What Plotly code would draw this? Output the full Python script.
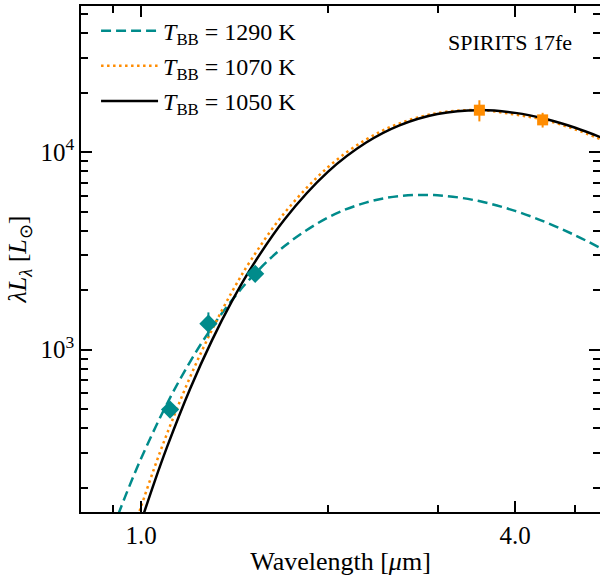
import plotly.graph_objects as go
import math

# ---- data ----
wl_1290 = [0.90, 0.95, 1.0, 1.1, 1.2, 1.3, 1.4, 1.5, 1.7, 2.0, 2.3, 2.6, 3.0, 3.5, 4.0, 4.5, 5.0, 5.5]
L_1290 = [124, 192, 282, 531, 873, 1296, 1779, 2296, 3338, 4674, 5555, 5986, 6048, 5652, 5040, 4394, 3791, 3260]

wl_1070 = [0.98, 1.0, 1.05, 1.1, 1.2, 1.3, 1.4, 1.5, 1.7, 2.0, 2.3, 2.6, 3.0, 3.5, 4.0, 4.5, 5.0, 5.5]
L_1070 = [133, 161, 252, 374, 732, 1259, 1960, 2821, 4912, 8406, 11572, 13951, 15776, 16321, 15492, 14455, 13027, 11597]

wl_1050 = [1.0, 1.05, 1.1, 1.2, 1.3, 1.4, 1.5, 1.7, 2.0, 2.3, 2.6, 3.0, 3.5, 4.0, 4.5, 5.0, 5.5]
L_1050 = [135, 213, 320, 638, 1114, 1759, 2565, 4552, 7969, 11152, 13623, 15594, 16321, 15809, 14666, 13285, 11876]

nir_wl = [1.113, 1.283, 1.526]
nir_L = [497, 1354, 2421]
nir_err = [20, 190, 60]

irac_wl = [3.504, 4.43]
irac_L = [16310, 14570]
irac_err = [2000, 1250]

legend_names = ["<i>T</i><sub>BB</sub> = 1290 K",
                "<i>T</i><sub>BB</sub> = 1070 K",
                "<i>T</i><sub>BB</sub> = 1050 K"]
x_tickvals = [1.0, 4.0]
x_ticktext = ["1.0", "4.0"]
x_minor = [0.9, 2.0, 3.0, 5.0]
y_tickvals = [1e3, 1e4]
y_ticktext = ["10<sup>3</sup>", "10<sup>4</sup>"]
y_minor = [v * 10 ** e for e in (2, 3, 4) for v in range(2, 10)]

TEAL = "#008b8b"
ORANGE = "#ff8c00"
FONT = "Liberation Serif"

fig = go.Figure()
fig.add_trace(go.Scatter(x=wl_1290, y=L_1290, mode="lines", name=legend_names[0],
                         line=dict(color=TEAL, width=2.5, dash="10px,5px", shape="spline"),
                         legendgroup="a"))
fig.add_trace(go.Scatter(x=wl_1070, y=L_1070, mode="lines", name=legend_names[1],
                         line=dict(color=ORANGE, width=2.5, dash="2.5px,3.5px", shape="spline"),
                         legendgroup="b"))
fig.add_trace(go.Scatter(x=wl_1050, y=L_1050, mode="lines", name=legend_names[2],
                         line=dict(color="black", width=2.5, shape="spline"),
                         legendgroup="c"))
fig.add_trace(go.Scatter(x=nir_wl, y=nir_L, mode="markers", showlegend=False,
                         marker=dict(symbol="diamond", size=14, color=TEAL),
                         error_y=dict(type="data", array=nir_err, color=TEAL, thickness=2, width=0)))
fig.add_trace(go.Scatter(x=irac_wl, y=irac_L, mode="markers", showlegend=False,
                         marker=dict(symbol="square", size=11, color=ORANGE),
                         error_y=dict(type="data", array=irac_err, color=ORANGE, thickness=2, width=0)))

fig.add_annotation(text="SPIRITS 17fe", xref="paper", yref="paper", x=0.95, y=0.928,
                   xanchor="right", yanchor="middle", showarrow=False,
                   font=dict(family=FONT, size=22, color="black"))

fig.update_xaxes(type="log", range=[math.log10(0.8), math.log10(5.48)],
                 tickvals=x_tickvals, ticktext=x_ticktext, automargin=False,
                 ticks="inside", ticklen=11, tickwidth=1.5, tickcolor="black",
                 minor=dict(tickvals=x_minor, ticks="inside", ticklen=7, tickwidth=1.5, tickcolor="black"),
                 showline=True, linecolor="black", linewidth=1.5, mirror="allticks",
                 showgrid=False, zeroline=False,
                 title=dict(text="Wavelength [<i>μ</i>m]", font=dict(family=FONT, size=26, color="black"), standoff=4),
                 tickfont=dict(family=FONT, size=25, color="black"))
fig.update_yaxes(type="log", range=[2.178, 4.740],
                 tickvals=y_tickvals, ticktext=y_ticktext, automargin=False,
                 ticks="inside", ticklen=11, tickwidth=1.5, tickcolor="black",
                 minor=dict(tickvals=y_minor, ticks="inside", ticklen=7, tickwidth=1.5, tickcolor="black"),
                 showline=True, linecolor="black", linewidth=1.5, mirror="allticks",
                 showgrid=False, zeroline=False,
                 title=dict(text="<i>λL</i><sub><i>λ</i></sub> [<i>L</i><sub>⊙</sub>]",
                            font=dict(family=FONT, size=26, color="black"), standoff=6),
                 tickfont=dict(family=FONT, size=25, color="black"))

fig.update_layout(width=600, height=576,
                  margin=dict(l=81, r=0, t=6, b=64),
                  paper_bgcolor="white", plot_bgcolor="white",
                  showlegend=True,
                  legend=dict(x=0.029, y=0.995, xanchor="left", yanchor="top",
                              bgcolor="rgba(0,0,0,0)", borderwidth=0,
                              tracegroupgap=1, itemwidth=57,
                              font=dict(family=FONT, size=24, color="black")))

fig.write_html("out.html", config={"displayModeBar": False},
               post_script="document.body.style.margin='0';document.body.style.overflow='hidden';")
